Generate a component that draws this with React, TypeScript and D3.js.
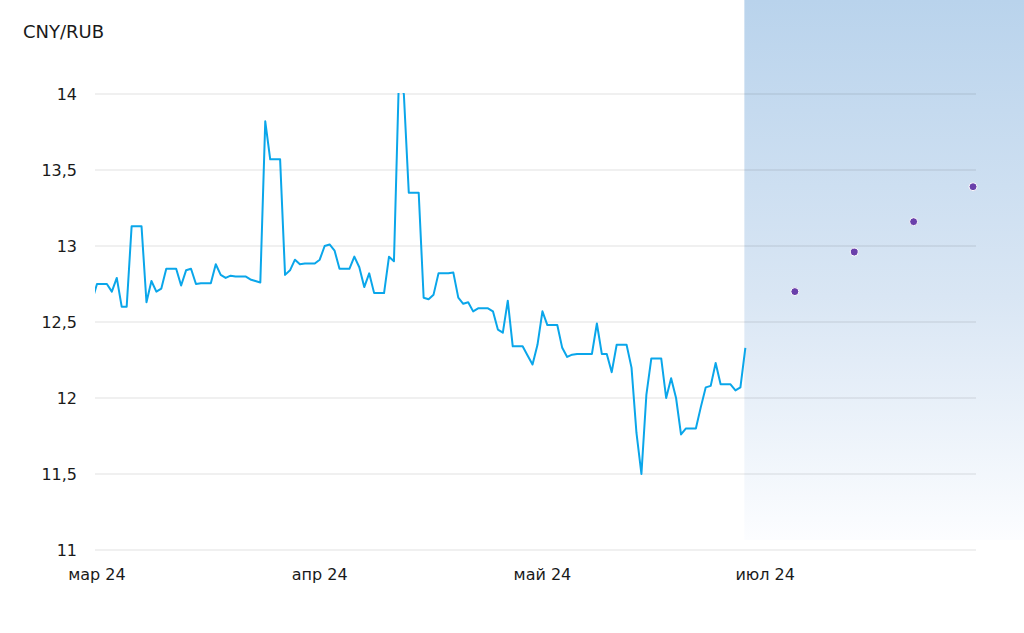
import React from "react";
import * as d3 from "d3";

// CNY/RUB daily rate (index = trading-day position on the x axis)
const spotRate: number[] = [
  12.64, 12.75, 12.75, 12.75, 12.70, 12.79, 12.60, 12.60, 13.13, 13.13,
  13.13, 12.63, 12.77, 12.70, 12.72, 12.85, 12.85, 12.85, 12.74, 12.84,
  12.85, 12.75, 12.755, 12.755, 12.755, 12.88, 12.81, 12.79, 12.805, 12.80,
  12.80, 12.80, 12.78, 12.77, 12.76, 13.82, 13.57, 13.57, 13.57, 12.81,
  12.84, 12.91, 12.88, 12.885, 12.885, 12.885, 12.91, 13.00, 13.01, 12.97,
  12.85, 12.85, 12.85, 12.93, 12.86, 12.73, 12.82, 12.69, 12.69, 12.69,
  12.93, 12.90, 14.10, 14.00, 13.35, 13.35, 13.35, 12.66, 12.65, 12.68,
  12.82, 12.82, 12.82, 12.825, 12.66, 12.62, 12.63, 12.57, 12.59, 12.59,
  12.59, 12.57, 12.45, 12.43, 12.64, 12.34, 12.34, 12.34, 12.28, 12.22,
  12.35, 12.57, 12.48, 12.48, 12.48, 12.33, 12.27, 12.285, 12.29, 12.29,
  12.29, 12.29, 12.49, 12.29, 12.29, 12.17, 12.35, 12.35, 12.35, 12.20,
  11.77, 11.50, 12.02, 12.26, 12.26, 12.26, 12.00, 12.13, 12.00, 11.76,
  11.80, 11.80, 11.80, 11.94, 12.07, 12.08, 12.23, 12.09, 12.09, 12.09,
  12.05, 12.07, 12.33,
];

// Forecast points
const forecastIndex: number[] = [142, 154, 166, 178];
const forecastRate: number[] = [12.70, 12.96, 13.16, 13.39];

// X axis ticks
const xTickIndex: number[] = [1, 46, 91, 136];
const xTickLabels: string[] = ["мар 24", "апр 24", "май 24", "июл 24"];

// Y axis ticks
const yTicks: number[] = [11, 11.5, 12, 12.5, 13, 13.5, 14];

const W = 1024;
const H = 633;
const plot = { left: 95, right: 976, top: 94, bottom: 550 };
const FONT = "'DejaVu Sans', Verdana, sans-serif";

export default function App() {
  const x = d3.scaleLinear().domain([0.6, 178.6]).range([plot.left, plot.right]);
  const y = d3.scaleLinear().domain([11, 14]).range([plot.bottom, plot.top]);

  const line = d3
    .line<number>()
    .x((_, i) => x(i))
    .y((d) => y(d));

  const forecastStart = x(spotRate.length - 1);
  const fmt = (v: number) => String(v).replace(".", ",");

  return (
    <svg
      width={W}
      height={H}
      style={{ position: "absolute", left: 0, top: 0, background: "#fff" }}
      fontFamily={FONT}
    >
      <defs>
        <linearGradient id="fcGrad" x1="0" y1="0" x2="0" y2="1">
          <stop offset="0%" stopColor="#b9d3ec" />
          <stop offset="55%" stopColor="#d9e6f4" />
          <stop offset="100%" stopColor="#fcfdff" />
        </linearGradient>
        <clipPath id="plotClip">
          <rect x={plot.left} y={plot.top - 1} width={plot.right - plot.left} height={plot.bottom - plot.top + 2} />
        </clipPath>
      </defs>

      <rect x={0} y={0} width={W} height={H} fill="#fff" />

      {/* forecast shaded zone */}
      <rect
        x={forecastStart - 1}
        y={0}
        width={W - forecastStart + 1}
        height={540}
        fill="url(#fcGrad)"
      />

      {/* gridlines */}
      {yTicks.map((t) => (
        <line
          key={t}
          x1={plot.left}
          x2={plot.right}
          y1={y(t)}
          y2={y(t)}
          stroke="#000"
          strokeOpacity={0.12}
          strokeWidth={1}
        />
      ))}

      {/* y labels */}
      {yTicks.map((t) => (
        <text
          key={"l" + t}
          x={77}
          y={y(t)}
          dy="0.36em"
          textAnchor="end"
          fontSize={16}
          fill="#1a1a1a"
        >
          {fmt(t)}
        </text>
      ))}

      {/* x labels */}
      {xTickIndex.map((t, i) => (
        <text
          key={"x" + t}
          x={x(t)}
          y={580}
          textAnchor="middle"
          fontSize={16}
          fill="#1a1a1a"
        >
          {xTickLabels[i]}
        </text>
      ))}

      {/* title */}
      <text x={23} y={38} fontSize={18} fill="#1a1a1a">
        CNY/RUB
      </text>

      {/* spot line */}
      <path
        d={line(spotRate) || ""}
        fill="none"
        stroke="#0aa6ea"
        strokeWidth={2}
        strokeLinejoin="round"
        clipPath="url(#plotClip)"
      />

      {/* forecast dots */}
      {forecastIndex.map((fi, i) => (
        <circle
          key={"f" + fi}
          cx={x(fi)}
          cy={y(forecastRate[i])}
          r={4}
          fill="#6a40ab"
          stroke="#fff"
          strokeWidth={1}
        />
      ))}
    </svg>
  );
}
